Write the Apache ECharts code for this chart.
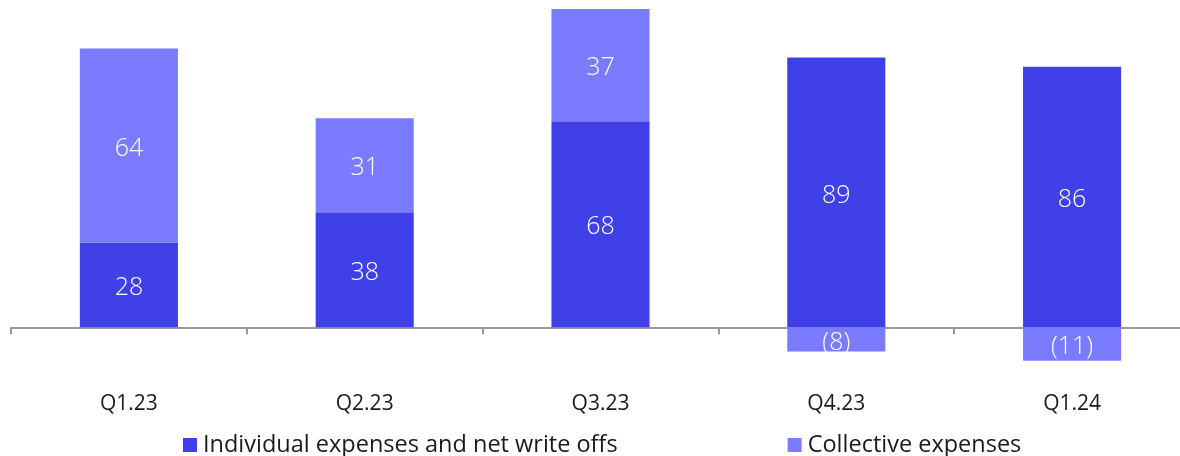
<!DOCTYPE html>
<html><head><meta charset="utf-8">
<script src="https://cdn.jsdelivr.net/npm/echarts@6/dist/echarts.min.js"></script>
<style>html,body{margin:0;padding:0;background:#fff}#c{width:1180px;height:456px}</style>
</head><body><div id="c"></div>
<script>
const categories = ['Q1.23','Q2.23','Q3.23','Q4.23','Q1.24'];
const individual = [28, 38, 68, 89, 86];
const collective = [64, 31, 37, -8, -11];
const seriesNames = ['Individual expenses and net write offs', 'Collective expenses'];

const FONT = '"Open Sans"';
const fmt = p => p.value < 0 ? '(' + Math.abs(p.value) + ')' : String(p.value);
const chart = echarts.init(document.getElementById('c'));
chart.setOption({
  animation: false,
  grid: { left: 11, right: -10, top: 6, bottom: 68, containLabel: false, outerBoundsMode: 'none' },
  legend: {
    left: 183, top: 433, padding: 0,
    itemWidth: 14, itemHeight: 14, itemGap: 170,
    icon: 'rect',
    textStyle: { fontFamily: FONT, fontSize: 23.5, color: '#1a1a1a', padding: [0,0,0,1] },
    data: seriesNames
  },
  xAxis: {
    type: 'category', data: categories,
    axisLine: { onZero: true, lineStyle: { color: '#999', width: 2 } },
    axisTick: { show: true, length: 7, lineStyle: { color: '#999', width: 2 } },
    axisLabel: { margin: 6, fontFamily: FONT, fontSize: 21, color: '#1a1a1a' }
  },
  yAxis: { type: 'value', min: -20, max: 106, show: false, splitLine: { show: false } },
  series: [
    {
      name: seriesNames[0], type: 'bar', stack: 'a', data: individual, barWidth: '41.6%',
      itemStyle: { color: '#4040E8' },
      label: { show: true, position: 'inside', offset: [0, 3], color: '#fff', fontFamily: FONT, fontWeight: 300, fontSize: 25, formatter: fmt }
    },
    {
      name: seriesNames[1], type: 'bar', stack: 'a', data: collective, barWidth: '41.6%',
      itemStyle: { color: '#7B7BFF' },
      label: { show: true, position: 'inside', offset: [0, 3], color: '#fff', fontFamily: FONT, fontWeight: 300, fontSize: 25, formatter: fmt }
    }
  ]
});
</script></body></html>
